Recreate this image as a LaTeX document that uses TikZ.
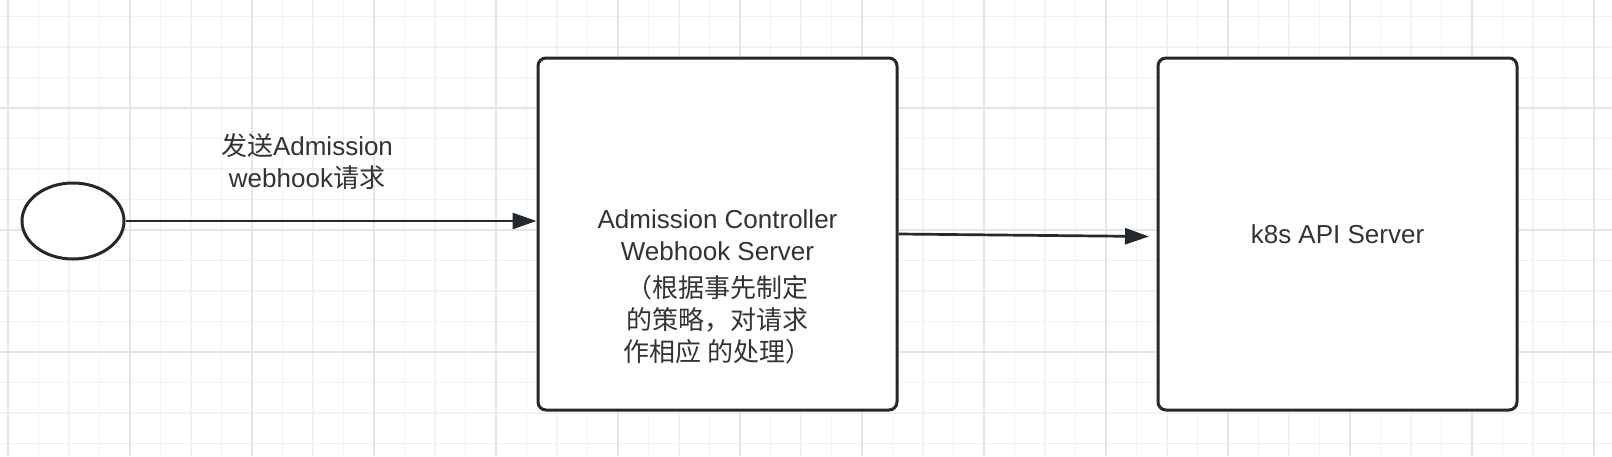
\documentclass[tikz,border=0pt]{standalone}
\usepackage{fontspec}
\setmainfont{Liberation Sans}
\newfontfamily\cjk{Noto Sans CJK SC}
\usetikzlibrary{arrows.meta,shapes.geometric}
\definecolor{ink}{HTML}{24292E}
\definecolor{txt}{HTML}{333333}
\definecolor{gridminor}{HTML}{F2F2F2}
\definecolor{gridmajor}{HTML}{E5E5E5}
\begin{document}
\begin{tikzpicture}[x=1pt,y=-1pt,
  gridmin/.style={draw=gridminor, line width=1.6pt},
  gridmaj/.style={draw=gridmajor, line width=2pt},
  shapebox/.style={draw=ink, line width=3pt, fill=white, rounded corners=8pt,
    minimum width=359pt, minimum height=352pt, inner sep=0pt},
  startnode/.style={draw=ink, line width=3pt, fill=white, ellipse,
    minimum width=102pt, minimum height=76pt, inner sep=0pt},
  conn/.style={draw=ink, line width=2.7pt, -{Triangle[length=24pt,width=16pt]}},
  lbl/.style={text=txt, font=\fontsize{26}{32}\selectfont, align=center, inner sep=0pt}]
\useasboundingbox (0,0) rectangle (1612,456);
\fill[white] (0,0) rectangle (1612,456);
% grid
\foreach \k in {0,...,52} \draw[gridmin] (8+30.5*\k,0) -- ++(0,456);
\foreach \k in {1,...,15} \draw[gridmin] (0,-14+30.5*\k) -- ++(1612,0);
\foreach \k in {0,...,13} \draw[gridmaj] (8+122*\k,0) -- ++(0,456);
\foreach \k in {1,...,3} \draw[gridmaj] (0,-14+122*\k) -- ++(1612,0);
% nodes
\node[startnode] (start) at (73,221) {};
\node[shapebox] (box1) at (717.5,234) {};
\node[shapebox] (box2) at (1337.5,234) {};
\node[lbl, anchor=north] (box1txt) at (717.5,209) {Admission Controller\\Webhook Server\\[5pt]{\cjk （根据事先制定}\\{\cjk 的策略，对请求}\\{\cjk 作相应 的处理）}};
\node[lbl] (box2txt) at (box2.center) {k8s API Server};
\node[lbl, anchor=north] (lbl1) at (307,133) {{\cjk 发送}Admission\\webhook{\cjk 请求}};
\coordinate (t2) at (1149,236.5);
% connectors
\draw[conn] (start.east) -- (start.east -| box1.west);
\draw[conn] (box1.east) -- (t2);
\end{tikzpicture}
\end{document}
